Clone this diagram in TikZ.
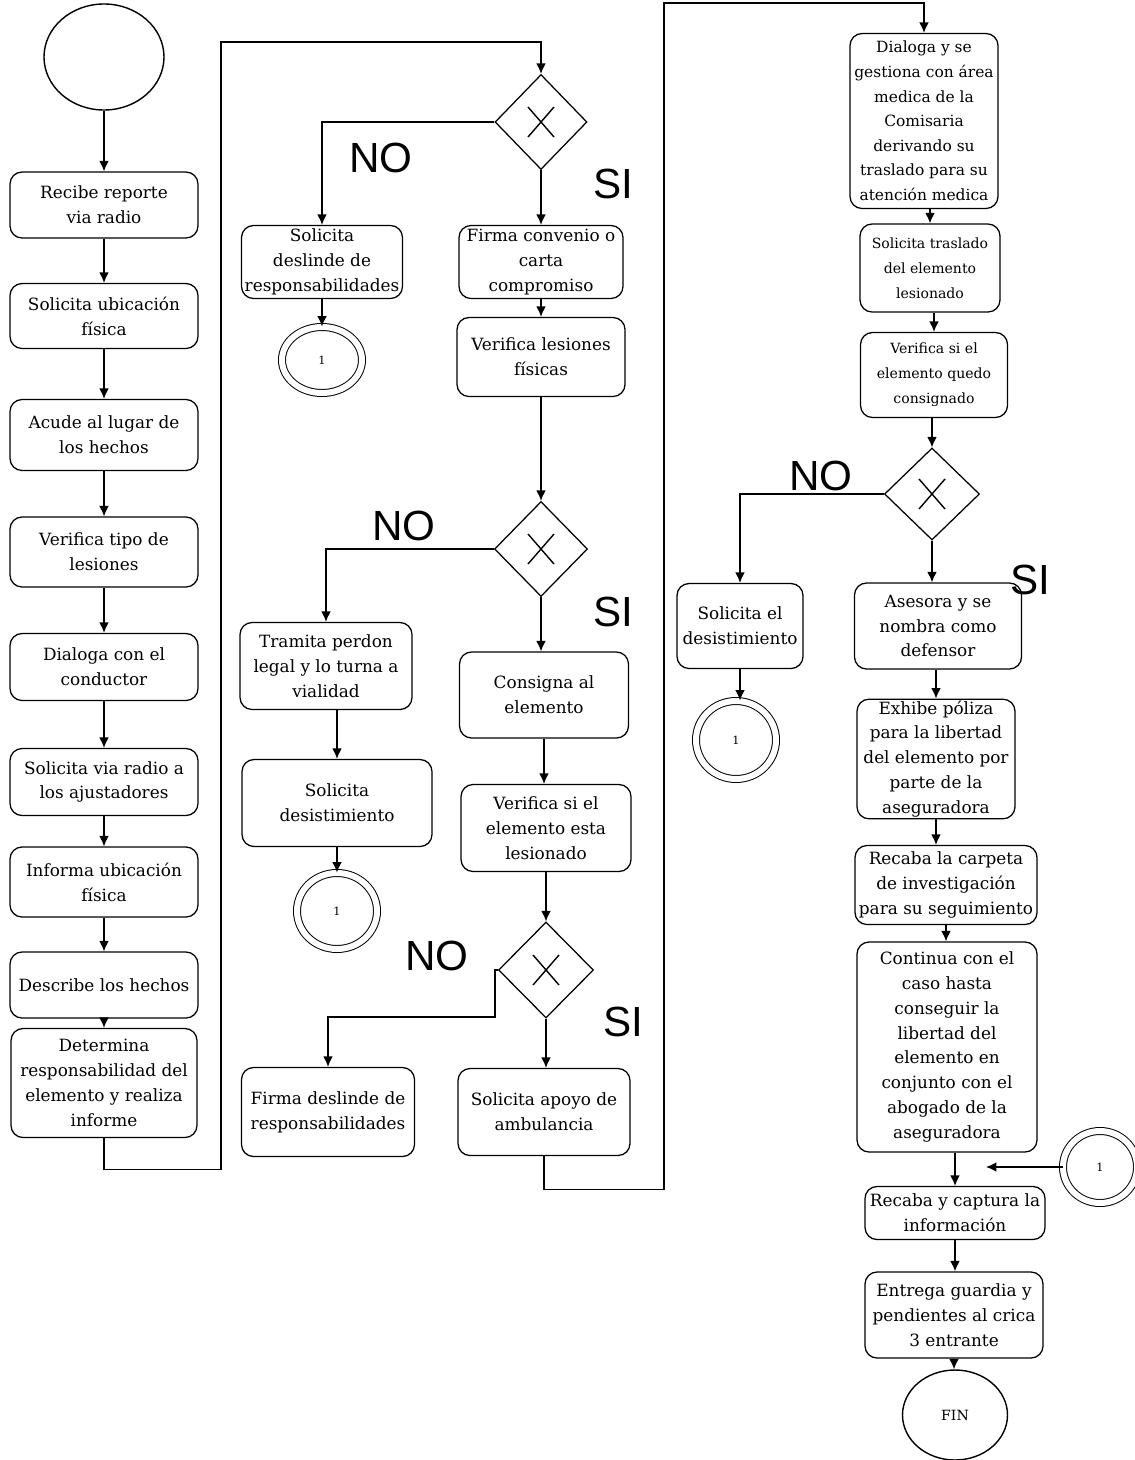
\documentclass[tikz,border=0pt]{standalone}
\usepackage{fontspec}
\setmainfont{DejaVu Serif}
\newfontfamily\labfont{Liberation Sans}
\usetikzlibrary{shapes.geometric,arrows.meta}
\begin{document}
\begin{tikzpicture}[x=0.025cm, y=-0.025cm,
  box/.style={draw, rounded corners=3mm, align=center, inner sep=1pt, line width=0.9pt, font=\fontsize{12}{17.7}\selectfont},
  sbox/.style={box, font=\fontsize{10}{17.7}\selectfont},
  wh/.style 2 args={minimum width=#1*0.025cm, minimum height=#2*0.025cm},
  gate/.style={draw, diamond, aspect=1, inner sep=0pt, line width=0.9pt},
  conn/.style={draw, ellipse, double, double distance=1.5mm, line width=0.7pt, inner sep=0pt, font=\fontsize{8}{8}\selectfont},
  term/.style={draw, ellipse, line width=1pt, inner sep=0pt, font=\fontsize{10}{10}\selectfont},
  lab/.style={font=\labfont\fontsize{30}{30}\selectfont, inner sep=0pt},
  arr/.style={line width=0.9pt, -{Latex[length=2.6mm,width=2.4mm]}},
  ln/.style={line width=0.9pt}]
\fill[white] (0,0) rectangle (1134,1460);
\useasboundingbox (0,0) rectangle (1134,1460);

% column 1
\node[term, wh={120}{106}] (start) at (104,57) {};
\node[box, wh={188}{66}] (b1) at (104,205) {Recibe reporte\\via radio};
\node[box, wh={188}{65}] (b2) at (104,316) {Solicita ubicación\\física};
\node[box, wh={188}{71}] (b3) at (104,435) {Acude al lugar de\\los hechos};
\node[box, wh={188}{70}] (b4) at (104,552) {Verifica tipo de\\lesiones};
\node[box, wh={188}{67}] (b5) at (104,667) {Dialoga con el\\conductor};
\node[box, wh={188}{67}] (b6) at (104,782) {Solicita via radio a\\los ajustadores};
\node[box, wh={188}{70}] (b7) at (104,882) {Informa ubicación\\física};
\node[box, wh={188}{66}] (b8) at (104,985) {Describe los hechos};
\node[box, wh={186}{109}] (b9) at (104,1083) {Determina\\responsabilidad del\\elemento y realiza\\informe};

\draw[arr] (start) -- (b1);
\draw[arr] (b1) -- (b2);
\draw[arr] (b2) -- (b3);
\draw[arr] (b3) -- (b4);
\draw[arr] (b4) -- (b5);
\draw[arr] (b5) -- (b6);
\draw[arr] (b6) -- (b7);
\draw[arr] (b7) -- (b8);
\draw[arr] (b8) -- (b9);

% column 2
\node[gate, wh={92}{95}] (d1) at (541,122) {};
\node[box, wh={161}{73}] (c1) at (322,262) {Solicita\\deslinde de\\responsabilidades};
\node[conn, wh={80}{66}] (k1) at (322,360) {1};
\node[box, wh={164}{73}] (c2) at (541,262) {Firma convenio o\\carta\\compromiso};
\node[box, wh={168}{79}] (c3) at (541,357) {Verifica lesiones\\físicas};
\node[gate, wh={93}{95}] (d2) at (541,549) {};
\node[box, wh={172}{87}] (c4) at (326,666) {Tramita perdon\\legal y lo turna a\\vialidad};
\node[box, wh={190}{87}] (c5) at (337,803) {Solicita\\desistimiento};
\node[conn, wh={80}{76}] (k2) at (337,911) {1};
\node[box, wh={169}{86}] (c6) at (544,695) {Consigna al\\elemento};
\node[box, wh={170}{87}] (c7) at (546,828) {Verifica si el\\elemento esta\\lesionado};
\node[gate, wh={95}{96}] (d3) at (546,970) {};
\node[box, wh={173}{89}] (c8) at (328,1112) {Firma deslinde de\\responsabilidades};
\node[box, wh={172}{87}] (c9) at (544,1112) {Solicita apoyo de\\ambulancia};

% column 3
\node[box, wh={148}{175}, font=\fontsize{11}{17.5}\selectfont] (r1) at (924,121) {Dialoga y se\\gestiona con área\\medica de la\\Comisaria\\derivando su\\traslado para su\\atención medica};
\node[sbox, wh={140}{88}] (r2) at (930,268) {Solicita traslado\\del elemento\\lesionado};
\node[sbox, wh={147}{85}] (r3) at (934,375) {Verifica si el\\elemento quedo\\consignado};
\node[gate, wh={95}{92}] (d4) at (932,494) {};
\node[box, wh={126}{85}] (r4) at (740,626) {Solicita el\\desistimiento};
\node[conn, wh={80}{78}] (k3) at (736,740) {1};
\node[box, wh={167}{86}] (r5) at (938,626) {Asesora y se\\nombra como\\defensor};
\node[box, wh={158}{118}] (r6) at (936,759) {Exhibe póliza\\para la libertad\\del elemento por\\parte de la\\aseguradora};
\node[box, wh={182}{79}] (r7) at (946,885) {Recaba la carpeta\\de investigación\\para su seguimiento};
\node[box, wh={180}{210}] (r8) at (947,1047) {Continua con el\\caso hasta\\conseguir la\\libertad del\\elemento en\\conjunto con el\\abogado de la\\aseguradora};
\node[conn, wh={74}{72}] (k4) at (1100,1167) {1};
\coordinate (k4end) at (986,1167);
\node[box, wh={180}{53}] (r9) at (955,1213) {Recaba y captura la\\información};
\node[box, wh={178}{86}] (r10) at (954,1315) {Entrega guardia y\\pendientes al crica\\3 entrante};
\node[term, wh={105}{90}] (fin) at (955,1415) {FIN};

% X marks in gateways
\foreach \g in {d1,d2,d3,d4}{
  \draw[line width=1pt] ([shift={(-13,-15)}]\g.center) -- ([shift={(13,15)}]\g.center);
  \draw[line width=1pt] ([shift={(-13,15)}]\g.center) -- ([shift={(13,-15)}]\g.center);
}

% connectors column 1 -> 2
\draw[arr] (b9.south) -- ++(0,31) -| (221,42) -| (d1.north);
\draw[arr] (d1.west) -| (c1.north);
\draw[arr] (d1.south) -- (c2.north);
\draw[arr] (c1.south) -- (k1.north);
\draw[arr] (c2.south) -- (c3.north);
\draw[arr] (c3.south) -- (d2.north);
\draw[arr] (d2.west) -| (c4.north);
\draw[arr] (d2.south) -- (d2.south |- c6.north);
\draw[arr] (c5.north |- c4.south) -- (c5.north);
\draw[arr] (c5.south) -- (k2.north);
\draw[arr] (c6.south) -- (c6.south |- c7.north);
\draw[arr] (c7.south) -- (d3.north);
\draw[arr] (d3.west) -- ++(-3,0) -- ++(0,47) -| (c8.north);
\draw[arr] (d3.south) -- (d3.south |- c9.north);
\draw[arr] (c9.south) -- ++(0,33) -| (664,3) -| (r1.north);

% column 3
\draw[arr] (r2.north |- r1.south) -- (r2.north);
\draw[arr] (r3.north |- r2.south) -- (r3.north);
\draw[arr] (d4.north |- r3.south) -- (d4.north);
\draw[arr] (d4.west) -| (r4.north);
\draw[arr] (r4.south) -- (r4.south |- k3.north);
\draw[arr] (d4.south) -- (d4.south |- r5.north);
\draw[arr] (r6.north |- r5.south) -- (r6.north);
\draw[arr] (r6.south) -- (r6.south |- r7.north);
\draw[arr] (r7.south) -- (r7.south |- r8.north);
\draw[arr] (r9.north |- r8.south) -- (r9.north);
\draw[arr] (r9.south) -- (r9.south |- r10.north);
\draw[arr] (r10.south) -- (r10.south |- fin.north);
\draw[arr] (k4.west) -- (k4end);

% labels
\node[lab] (no1) at (381,158) {NO};
\node[lab] (si1) at (613,184) {SI};
\node[lab] (no2) at (404,526) {NO};
\node[lab] (si2) at (613,612) {SI};
\node[lab] (no3) at (437,956) {NO};
\node[lab] (si3) at (623,1022) {SI};
\node[lab] (no4) at (821,476) {NO};
\node[lab] (si4) at (1030,580) {SI};
\end{tikzpicture}
\end{document}
